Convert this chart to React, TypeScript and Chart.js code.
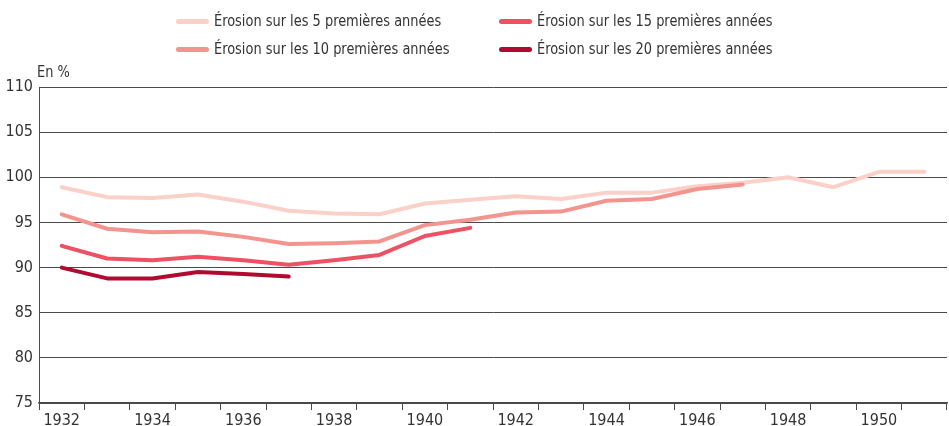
import React, { useEffect, useRef } from "react";
import { Chart, registerables } from "chart.js";

Chart.register(...registerables);

const years = ["1932","1933","1934","1935","1936","1937","1938","1939","1940","1941","1942","1943","1944","1945","1946","1947","1948","1949","1950","1951"];
const erosion5 = [98.9, 97.8, 97.7, 98.1, 97.3, 96.3, 96.0, 95.9, 97.1, 97.5, 97.9, 97.6, 98.3, 98.3, 99.0, 99.4, 100.0, 98.9, 100.6, 100.6];
const erosion10 = [95.9, 94.3, 93.9, 94.0, 93.4, 92.6, 92.7, 92.9, 94.7, 95.3, 96.1, 96.2, 97.4, 97.6, 98.7, 99.2, null, null, null, null];
const erosion15 = [92.4, 91.0, 90.8, 91.2, 90.8, 90.3, 90.8, 91.4, 93.5, 94.4, null, null, null, null, null, null, null, null, null, null];
const erosion20 = [90.0, 88.8, 88.8, 89.5, 89.3, 89.0, null, null, null, null, null, null, null, null, null, null, null, null, null, null];

const labels5 = "Érosion sur les 5 premières années";
const labels10 = "Érosion sur les 10 premières années";
const labels15 = "Érosion sur les 15 premières années";
const labels20 = "Érosion sur les 20 premières années";
const unitLabel = "En %";

const C5 = "#fbd0c8";
const C10 = "#f3948f";
const C15 = "#ee5064";
const C20 = "#b00a30";

const FONT = "'Liberation Sans Narrow', 'DejaVu Sans Condensed', 'Arial Narrow', sans-serif";

export default function App() {
  const ref = useRef<HTMLCanvasElement | null>(null);

  useEffect(() => {
    if (!ref.current) return;
    const mk = (label: string, data: (number | null)[], color: string) => ({
      label,
      data,
      borderColor: color,
      backgroundColor: color,
      borderWidth: 4,
      pointRadius: 0,
      tension: 0,
      spanGaps: false,
      borderCapStyle: "round" as const,
      borderJoinStyle: "round" as const,
    });
    const chart = new Chart(ref.current, {
      type: "line",
      data: {
        labels: years,
        datasets: [
          mk(labels20, erosion20, C20),
          mk(labels15, erosion15, C15),
          mk(labels10, erosion10, C10),
          mk(labels5, erosion5, C5),
        ],
      },
      options: {
        responsive: false,
        animation: false,
        layout: { padding: { top: 87, right: 2, left: 0, bottom: 0 } },
        plugins: { legend: { display: false }, tooltip: { enabled: false } },
        scales: {
          x: {
            offset: true,
            afterFit: (s: any) => { s.height = 23; },
            grid: { offset: true, drawOnChartArea: false, drawTicks: true, tickLength: 7, color: "#4a4a4a", lineWidth: 1 },
            border: { display: true, color: "#4a4a4a", width: 1.5 },
            ticks: {
              autoSkip: false,
              maxRotation: 0,
              padding: 1,
              color: "#333",
              font: { family: FONT, size: 16 },
              callback: (_v: any, i: number) => (i % 2 === 0 ? years[i] : ""),
            },
          },
          y: {
            min: 75,
            max: 110,
            afterFit: (s: any) => { s.width = 39; },
            grid: { drawTicks: false, color: "#4a4a4a", lineWidth: 1 },
            border: { display: true, color: "#4a4a4a", width: 1 },
            ticks: { stepSize: 5, padding: 6, color: "#333", font: { family: FONT, size: 16 } },
          },
        },
      },
    });
    return () => chart.destroy();
  }, []);

  const textStyle: React.CSSProperties = {
    fontFamily: FONT,
    fontSize: 16,
    color: "#333",
    whiteSpace: "nowrap",
    lineHeight: "20px",
    display: "inline-block",
    transform: "scaleX(0.9)",
    transformOrigin: "left center",
  };

  const legendItem = (label: string, color: string, left: number, top: number) => (
    <div style={{ position: "absolute", left, top, display: "flex", alignItems: "center", height: 20 }}>
      <div style={{ width: 33, height: 5, borderRadius: 3, background: color, marginRight: 5 }} />
      <span style={textStyle}>{label}</span>
    </div>
  );

  return (
    <div style={{ position: "absolute", left: 0, top: 0, width: 949, height: 426, background: "#fff" }}>
      <canvas ref={ref} width={949} height={426} style={{ display: "block", width: 949, height: 426 }} />
      {legendItem(labels5, C5, 176, 11)}
      {legendItem(labels15, C15, 499, 11)}
      {legendItem(labels10, C10, 176, 39)}
      {legendItem(labels20, C20, 499, 39)}
      <div style={{ position: "absolute", left: 37, top: 62 }}>
        <span style={textStyle}>{unitLabel}</span>
      </div>
    </div>
  );
}
